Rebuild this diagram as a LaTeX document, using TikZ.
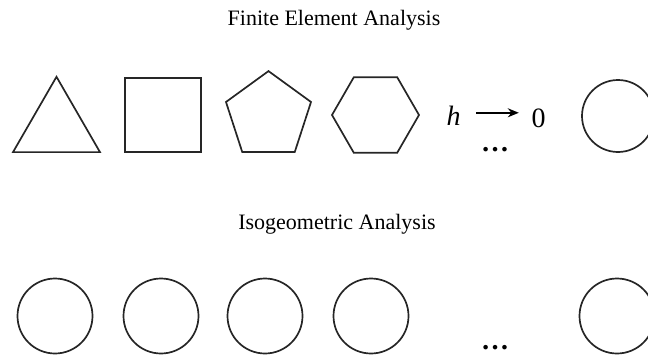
\documentclass[tikz,border=0pt]{standalone}
\usepackage{fontspec}
\setmainfont{Liberation Serif}
\usetikzlibrary{shapes.geometric,arrows.meta}
\tikzset{
  shp/.style={draw=black!85, line width=1.7pt, inner sep=0pt, outer sep=0pt},
  title/.style={font=\fontsize{22}{26}\selectfont, anchor=base, inner sep=0pt},
  mathtxt/.style={font=\fontsize{28}{32}\selectfont, anchor=base, inner sep=0pt},
  dotstxt/.style={font=\fontsize{28}{32}\selectfont\bfseries, anchor=base, inner sep=0pt},
  arr/.style={line width=1.6pt, -{Stealth[length=11pt,width=9pt]}}
}
\begin{document}
\begin{tikzpicture}[x=1pt,y=-1pt]
\useasboundingbox (0,0) rectangle (648,356);
\clip (0,0) rectangle (648,356);
% titles
\node[title] (fea) at (334,25) {Finite Element Analysis};
\node[title] (iga) at (337,229) {Isogeometric Analysis};
% FEA row
\node[shp, regular polygon, regular polygon sides=3, minimum size=100.4pt] (tri) at (56.5,127) {};
\node[shp, rectangle, minimum width=76pt, minimum height=74pt] (sq) at (163,115) {};
\node[shp, regular polygon, regular polygon sides=5, minimum size=89.4pt] (pent) at (268.5,115.8) {};
\node[shp, regular polygon, regular polygon sides=6, minimum size=87pt] (hex) at (375.5,115) {};
\node[mathtxt] (h) at (453.5,125) {\itshape h};
\node[mathtxt] (zero) at (538.5,127) {0};
\draw[arr, shorten <=15.5pt, shorten >=12.5pt] ([yshift=2.5pt]h.east) -- ([yshift=2.5pt]h.east -| zero.west);
\node[dotstxt] (dotsA) at (495,151) {…};
\node[shp, circle, minimum size=72pt] (cA) at (618,116) {};
% IGA row
\node[shp, circle, minimum size=75pt] (c1) at (55,316) {};
\node[shp, circle, minimum size=75pt] (c2) at (161,316) {};
\node[shp, circle, minimum size=75pt] (c3) at (265,316) {};
\node[shp, circle, minimum size=75pt] (c4) at (371,316) {};
\node[dotstxt] (dotsB) at (495,349) {…};
\node[shp, circle, minimum size=75pt] (c5) at (617,316) {};
\end{tikzpicture}
\end{document}
